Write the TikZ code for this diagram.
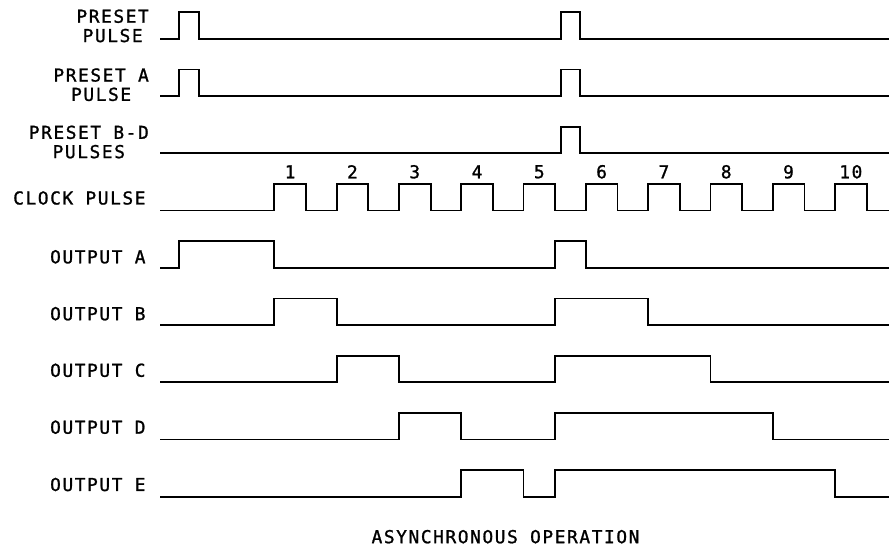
\documentclass[tikz,border=0pt]{standalone}
\usepackage{fontspec}
\setmonofont[LetterSpace=9, FakeBold=1.2]{DejaVu Sans Mono}
\usetikzlibrary{positioning}

\newcommand{\ph}{26.5}
\newcommand{\pulse}[2]{-- (#1,\by) |- (#2,\by-\ph) -- (#2,\by)}

\begin{document}
\begin{tikzpicture}[
    x=1pt, y=-1pt,
    wave/.style={line width=1.8pt, line join=miter},
    lbl/.style={font=\ttfamily\fontsize{17.8}{19.3}\selectfont, inner sep=0pt, anchor=east, align=center},
    num/.style={font=\ttfamily\fontsize{17.8}{19.3}\selectfont, inner sep=0pt}
]
    \useasboundingbox (0,0) rectangle (889,548);

    % labels
    \node[lbl] (pre) at (149,25.9) {PRESET\\PULSE};
    \node[lbl] (preA) at (149,84.7) {PRESET A\\PULSE};
    \node[lbl] (preBD) at (149,142) {PRESET B-D\\PULSES};
    \node[lbl] (clk) at (145.7,198) {CLOCK PULSE};
    \node[lbl] (outA) at (145.7,256.8) {OUTPUT A};
    \node[lbl] (outB) at (145.7,313.7) {OUTPUT B};
    \node[lbl] (outC) at (145.7,370.3) {OUTPUT C};
    \node[lbl] (outD) at (145.7,427.2) {OUTPUT D};
    \node[lbl] (outE) at (145.7,484.5) {OUTPUT E};
    \node[num] (title) at (505.5,536.7) {ASYNCHRONOUS OPERATION};

    % preset rows
    \def\by{38.7}
    \draw[wave] (160,\by) \pulse{179.3}{199} \pulse{560.7}{580} -- (889,\by);
    \def\by{95.95}
    \draw[wave] (160,\by) \pulse{179.3}{199} \pulse{560.7}{580} -- (889,\by);
    \def\by{153.2}
    \draw[wave] (160,\by) \pulse{560.7}{580} -- (889,\by);

    % clock
    \def\by{210.45}
    \draw[wave] (160,\by) foreach \k in {0,...,9} {\pulse{274.3+62.3*\k}{306+62.3*\k}} -- (889,\by);
    \foreach \k in {1,...,10}
        \node[num] (n\k) at ({290.1+62.3*(\k-1)},171.8) {\k};

    % outputs
    \def\by{267.7}
    \draw[wave] (160,\by) \pulse{179.3}{274.3} \pulse{555}{585.8} -- (889,\by);
    \def\by{324.95}
    \draw[wave] (160,\by) \pulse{274.3}{336.6} \pulse{555}{648.1} -- (889,\by);
    \def\by{382.2}
    \draw[wave] (160,\by) \pulse{336.6}{398.9} \pulse{555}{710.4} -- (889,\by);
    \def\by{439.45}
    \draw[wave] (160,\by) \pulse{398.9}{461.2} \pulse{555}{772.7} -- (889,\by);
    \def\by{496.7}
    \draw[wave] (160,\by) \pulse{461.2}{523.5} \pulse{555}{835} -- (889,\by);
\end{tikzpicture}
\end{document}
